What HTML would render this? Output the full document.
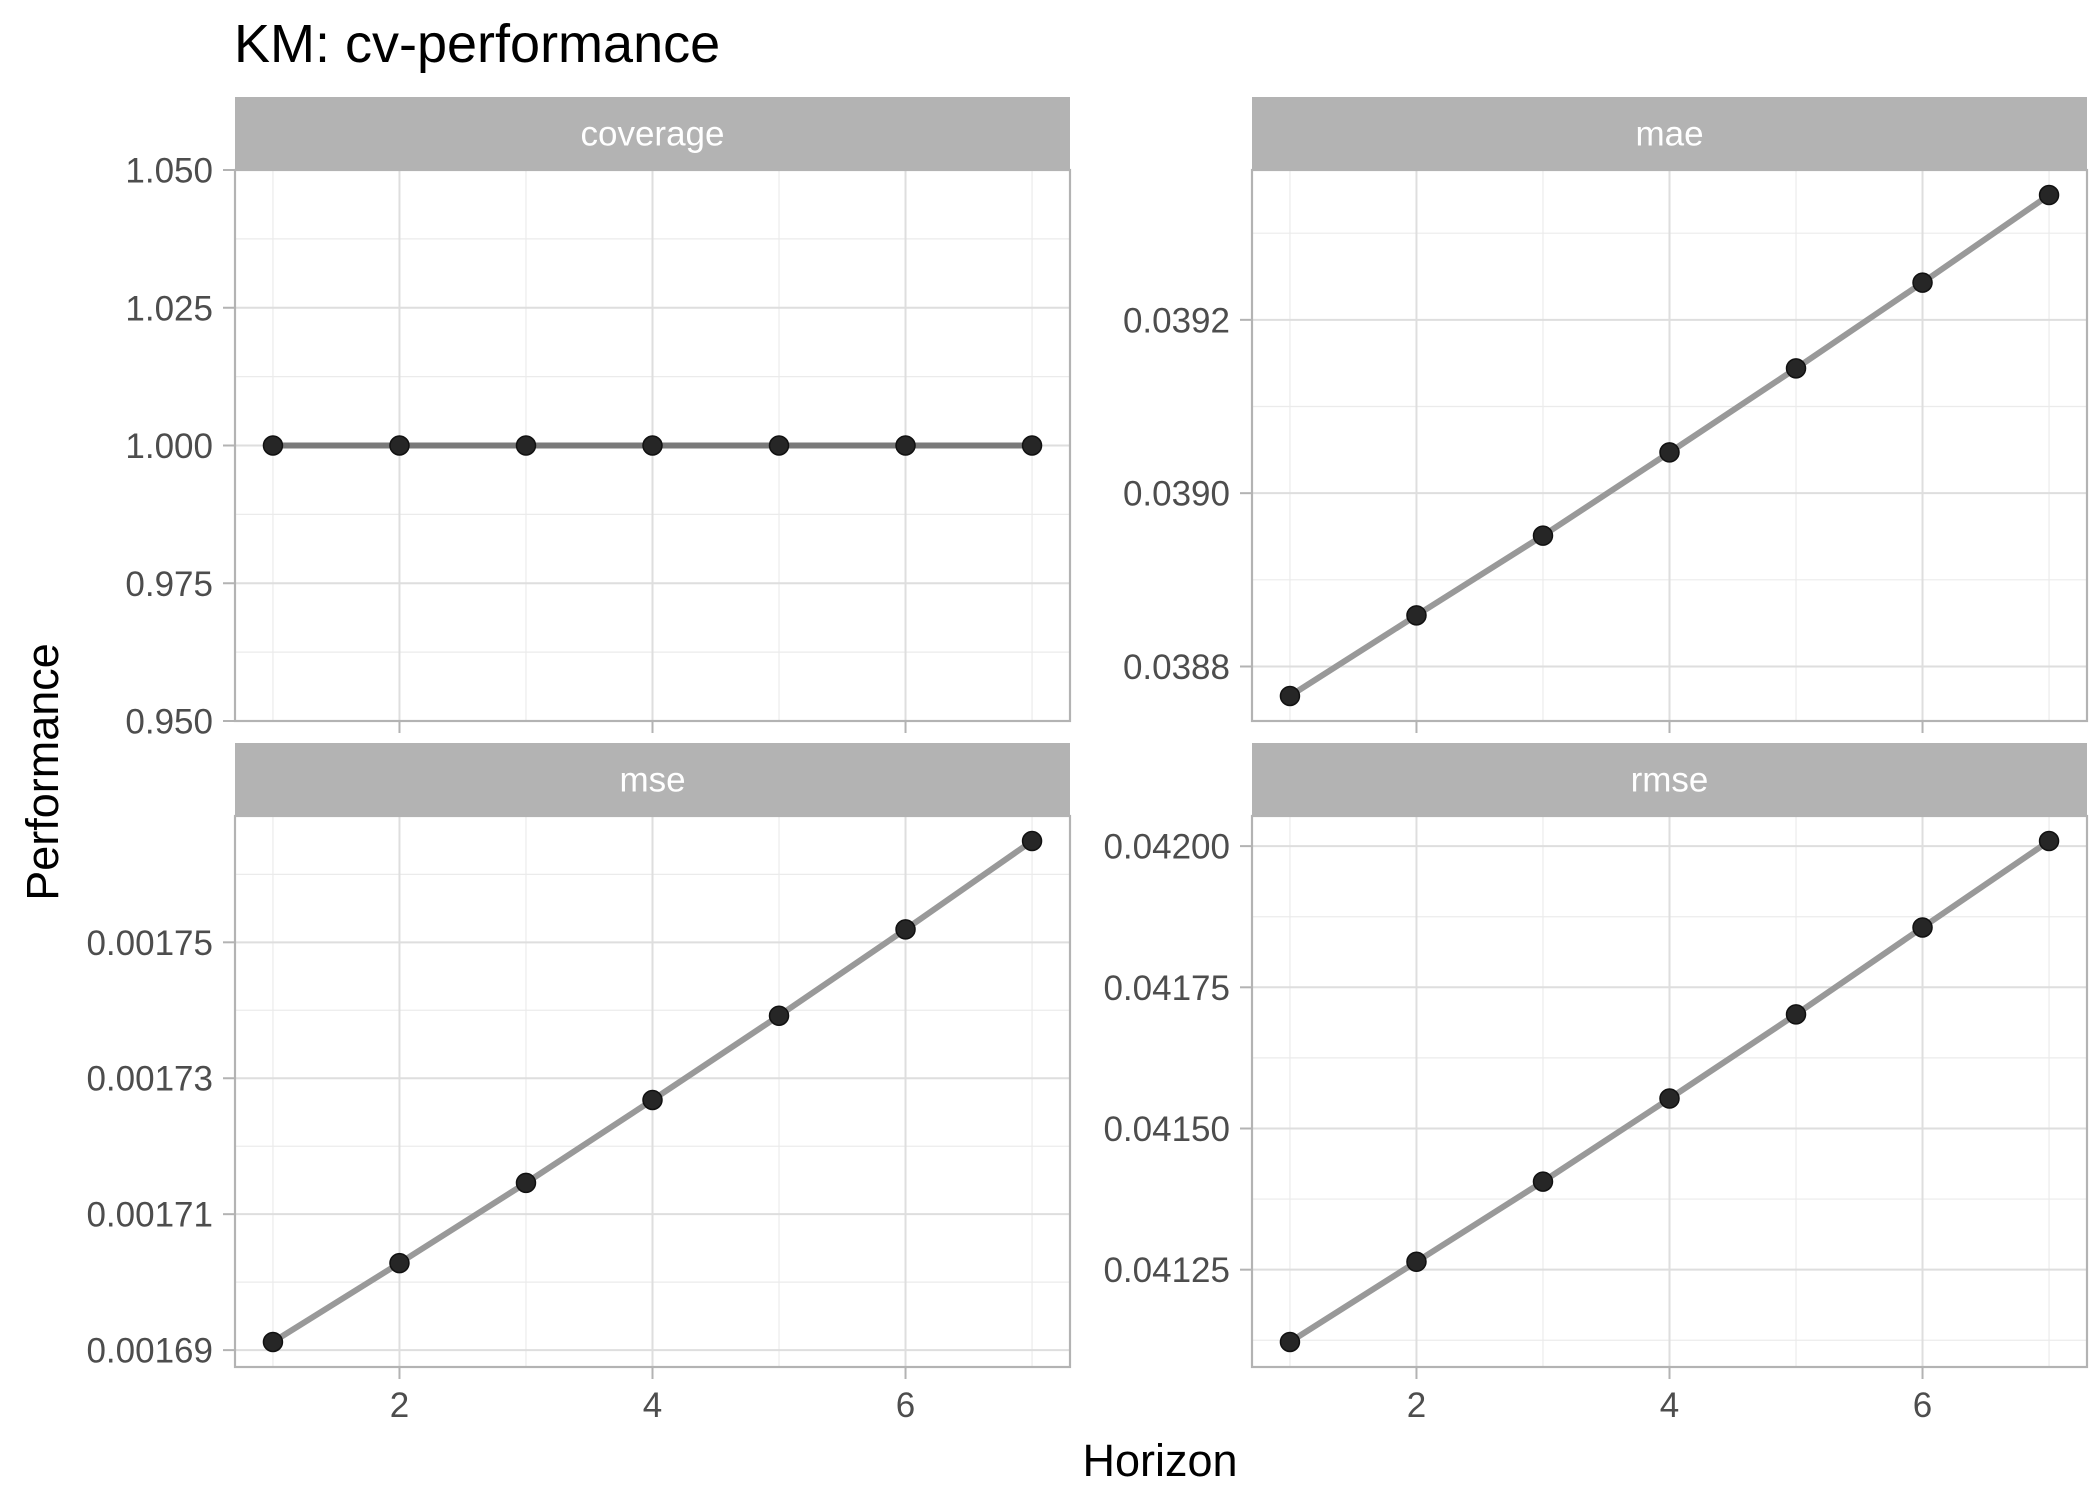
<!DOCTYPE html>
<html><head><meta charset="utf-8"><style>
html,body{margin:0;padding:0;background:#fff;}
svg{display:block;font-family:"Liberation Sans",sans-serif;}
</style></head><body>
<svg id="chart" width="2100" height="1500" viewBox="0 0 2100 1500" xmlns="http://www.w3.org/2000/svg">
<rect width="2100" height="1500" fill="#fff"/>
<text x="234" y="62" font-size="54" fill="#000">KM: cv-performance</text>
<text x="1160" y="1476" font-size="45" fill="#000" text-anchor="middle">Horizon</text>
<text transform="translate(58,772) rotate(-90)" font-size="45" fill="#000" text-anchor="middle">Performance</text>
<g id="panels"></g>
</svg>
<script>
const horizons = [1, 2, 3, 4, 5, 6, 7];
const coverageValues = [1, 1, 1, 1, 1, 1, 1];
const maeValues = [0.038766, 0.038859, 0.038951, 0.039047, 0.039144, 0.039243, 0.039344];
const mseValues = [0.0016912, 0.0017028, 0.0017146, 0.0017268, 0.0017392, 0.0017519, 0.0017649];
const rmseValues = [0.041122, 0.041264, 0.041406, 0.041553, 0.041702, 0.041856, 0.042009];
const xTicks = [2, 4, 6];
const coverageTicks = ["0.950", "0.975", "1.000", "1.025", "1.050"];
const maeTicks = ["0.0388", "0.0390", "0.0392"];
const mseTicks = ["0.00169", "0.00171", "0.00173", "0.00175"];
const rmseTicks = ["0.04125", "0.04150", "0.04175", "0.04200"];

const NS = "http://www.w3.org/2000/svg";
const root = document.getElementById("panels");
function mk(tag, attrs, parent) {
  const e = document.createElementNS(NS, tag);
  for (const k in attrs) e.setAttribute(k, attrs[k]);
  (parent || root).appendChild(e);
  return e;
}
const panels = [
  {name: "coverage", vals: coverageValues, ticks: coverageTicks, x: 235, y: 170, fixed: [0.95, 1.05], xlab: false, minorStep: 0.025},
  {name: "mae", vals: maeValues, ticks: maeTicks, x: 1252, y: 170, xlab: false, minorStep: 0.0002},
  {name: "mse", vals: mseValues, ticks: mseTicks, x: 235, y: 816, xlab: true, minorStep: 0.00002},
  {name: "rmse", vals: rmseValues, ticks: rmseTicks, x: 1252, y: 816, xlab: true, minorStep: 0.00025}
];
const W = 835, H = 551, SH = 73;
panels.forEach(p => {
  const g = mk("g", {});
  
  
  let lo, hi;
  if (p.fixed) { lo = p.fixed[0]; hi = p.fixed[1]; }
  else {
    const mn = Math.min(...p.vals), mx = Math.max(...p.vals), r = mx - mn;
    lo = mn - 0.05 * r; hi = mx + 0.05 * r;
  }
  const xs = v => p.x + (v - 0.7) / 6.6 * W;
  const ys = v => p.y + H - (v - lo) / (hi - lo) * H;
  const strip = mk("rect", {x: p.x, y: p.y - SH, width: W, height: SH, fill: "#B3B3B3"}, g);
  
  
  const st = mk("text", {x: p.x + W / 2, y: p.y - SH / 2 + 12, "font-size": 35, fill: "#fff", "text-anchor": "middle"}, g);
  st.textContent = p.name;
  
  
  const step = p.minorStep;
  const t0 = parseFloat(p.ticks[0]);
  for (let k = -4; k < 20; k++) {
    const v = t0 + (k + 0.5) * step;
    if (v < lo || v > hi) continue;
    mk("line", {x1: p.x, x2: p.x + W, y1: ys(v), y2: ys(v), stroke: "#EBEBEB", "stroke-width": 1.2}, g);
  }
  [1, 3, 5, 7].forEach(v => mk("line", {x1: xs(v), x2: xs(v), y1: p.y, y2: p.y + H, stroke: "#EBEBEB", "stroke-width": 1.2}, g));
  p.ticks.forEach(t => {
    const y = ys(parseFloat(t));
    mk("line", {x1: p.x, x2: p.x + W, y1: y, y2: y, stroke: "#DEDEDE", "stroke-width": 2}, g);
    mk("line", {x1: p.x - 12, x2: p.x, y1: y, y2: y, stroke: "#B3B3B3", "stroke-width": 2}, g);
    const tl = mk("text", {x: p.x - 22, y: y + 12.5, "font-size": 35, fill: "#4D4D4D", "text-anchor": "end"}, g);
    tl.textContent = t;
    
    
  });
  xTicks.forEach(v => {
    mk("line", {x1: xs(v), x2: xs(v), y1: p.y, y2: p.y + H, stroke: "#DEDEDE", "stroke-width": 2}, g);
    mk("line", {x1: xs(v), x2: xs(v), y1: p.y + H, y2: p.y + H + 12, stroke: "#B3B3B3", "stroke-width": 2}, g);
    if (p.xlab) {
      const xl = mk("text", {x: xs(v), y: p.y + H + 50, "font-size": 35, fill: "#4D4D4D", "text-anchor": "middle"}, g);
      xl.textContent = v;
      
      
    }
  });
  const pts = horizons.map((h, i) => xs(h) + "," + ys(p.vals[i])).join(" ");
  const line = mk("polyline", {points: pts, fill: "none", stroke: p.fixed ? "#7a7a7a" : "#999999", "stroke-width": 6, "stroke-linejoin": "round"}, g);
  
  
  horizons.forEach((h, i) => {
    const c = mk("circle", {cx: xs(h), cy: ys(p.vals[i]), r: 9.5, fill: "#262626", stroke: "#111", "stroke-width": 1.5}, g);
    
    
  });
  mk("rect", {x: p.x, y: p.y, width: W, height: H, fill: "none", stroke: "#B3B3B3", "stroke-width": 2.2}, g);
});
</script>
</body></html>
